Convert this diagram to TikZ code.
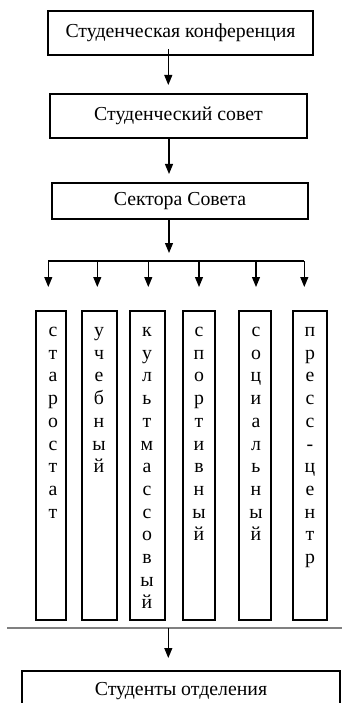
\documentclass[tikz,border=0pt]{standalone}
\usepackage{fontspec}
\setmainfont{Liberation Serif}
\usetikzlibrary{arrows.meta,calc}
\tikzset{
  txt/.style={font=\fontsize{19.8}{22.7}\selectfont},
  box/.style={draw, line width=1.2pt, inner sep=0pt, txt},
  colbox/.style={draw, line width=1.2pt, inner sep=0pt, minimum height=309pt},
  letters/.style={inner sep=0pt, anchor=base, txt},
  arr/.style={line width=1.1pt, -{Triangle[width=8pt,length=10pt]}},
  ln/.style={line width=1.2pt},
  sep/.style={line width=2pt, black!50}
}
\newcommand{\vstack}[1]{\begin{tabular}[t]{@{}c@{}}#1\end{tabular}}
\begin{document}
\begin{tikzpicture}[x=1pt,y=-1pt]
\useasboundingbox (0,0) rectangle (342,703);
\clip (0,0) rectangle (342,703);
\node[box, minimum width=265pt, minimum height=44pt] (b1) at (180.5,33) {Студенческая конференция};
\node[box, minimum width=257pt, minimum height=44pt] (b2) at (178.5,116) {Студенческий совет};
\node[box, minimum width=256pt, minimum height=36pt] (b3) at (180,201) {Сектора Совета};
% columns
\node[colbox, minimum width=30pt] (c1) at (51,465.5) {};
\node[colbox, minimum width=35pt] (c2) at (99.5,465.5) {};
\node[colbox, minimum width=35pt] (c3) at (147.5,465.5) {};
\node[colbox, minimum width=32pt] (c4) at (199,465.5) {};
\node[colbox, minimum width=32pt] (c5) at (255,465.5) {};
\node[colbox, minimum width=34pt] (c6) at (310,465.5) {};
\node[letters] (t1) at (53,336.5) {\vstack{с\\т\\а\\р\\о\\с\\т\\а\\т}};
\node[letters] (t2) at (99,336.5) {\vstack{у\\ч\\е\\б\\н\\ы\\й}};
\node[letters] (t3) at (147,336.5) {\vstack{к\\у\\л\\ь\\т\\м\\а\\с\\с\\о\\в\\ы\\й}};
\node[letters] (t4) at (199,336.5) {\vstack{с\\п\\о\\р\\т\\и\\в\\н\\ы\\й}};
\node[letters] (t5) at (256,336.5) {\vstack{с\\о\\ц\\и\\а\\л\\ь\\н\\ы\\й}};
\node[letters] (t6) at (310,336.5) {\vstack{п\\р\\е\\с\\с\\-\\ц\\е\\н\\т\\р}};
\node[box, minimum width=318pt, minimum height=40pt] (b4) at (181,691) {Студенты отделения};
% connectors
\coordinate (a1s) at (168.3,49);
\coordinate (a1e) at (168.3,85);
\draw[arr] (a1s) -- (a1e);
\coordinate (a2s) at (169,138);
\coordinate (a2e) at (169,174);
\draw[arr] (a2s) -- (a2e);
\coordinate (a3e) at (169,253);
\draw[arr] (b3.south -| a3e) -- (a3e);
\coordinate (hl) at (48.3,261);
\coordinate (hr) at (304.3,261);
\draw[ln] (hl) -- (hr);
\foreach \x [count=\i] in {48.3,97.3,148.3,199,256,304.3}{
  \coordinate (d\i) at (\x,287);
  \draw[arr] (d\i |- hl) -- (d\i);
}
\coordinate (gl) at (7,628);
\coordinate (gr) at (342,628);
\draw[sep] (gl) -- (gr);
\coordinate (a4e) at (168.3,658);
\draw[arr] (a4e |- gl) -- (a4e);
\end{tikzpicture}
\end{document}
